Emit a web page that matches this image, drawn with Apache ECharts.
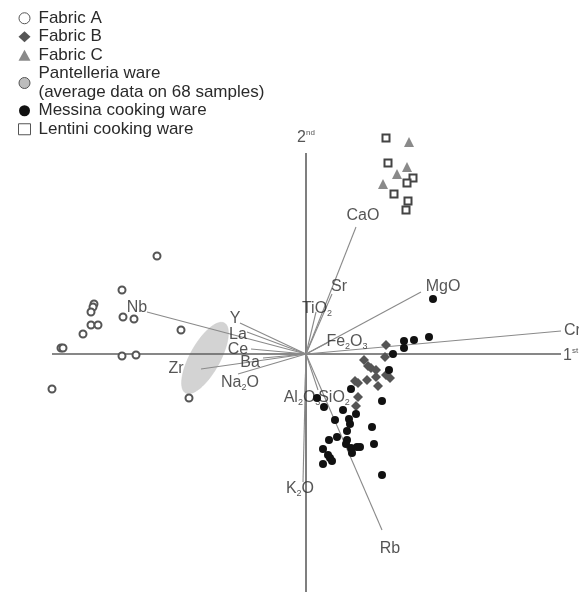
<!DOCTYPE html>
<html>
<head>
<meta charset="utf-8">
<script src="https://cdn.jsdelivr.net/npm/echarts@6/dist/echarts.min.js"></script>
<style>
  html, body { margin: 0; padding: 0; background: #fff; }
  #chart { width: 579px; height: 597px; }
</style>
</head>
<body>
<div id="chart"></div>
<script>
// Principal component biplot: sample scores and element loadings (1st vs 2nd component)

// Sample scores
const fabricA = [[-149,98],[-184,64],[-212,50],[-213,47],[-215,42],[-183,37],[-172,35],[-215,29],[-208,29],[-223,20],[-125,24],[-245,6],[-243,6],[-184,-2],[-170,-1],[-254,-35],[-117,-44]];
const fabricB = [[80,9],[79,-3],[58,-6],[62,-12],[65,-14],[70,-16],[80,-21],[84,-24],[61,-26],[70,-23],[49,-27],[52,-29],[72,-32],[52,-43],[50,-52]];
const fabricC = [[103,212],[101,187],[91,180],[77,170]];
const messina = [[127,55],[98,13],[108,14],[123,17],[98,6],[87,0],[83,-16],[45,-35],[76,-47],[11,-44],[18,-53],[37,-56],[50,-60],[43,-65],[29,-66],[44,-70],[41,-77],[66,-73],[23,-86],[31,-83],[41,-86],[40,-90],[45,-94],[51,-93],[54,-93],[46,-99],[68,-90],[17,-95],[22,-101],[24,-104],[26,-107],[17,-110],[76,-121]];
const lentini = [[80,216],[82,191],[107,176],[101,171],[88,160],[102,153],[100,144]];

// Pantelleria ware: mean position with confidence ellipse [cx, cy, semiMajor, semiMinor, angleDeg]
const pantelleria = [[-101,-4,40,15,61]];

// Element loadings (vector tips)
const elements = ['CaO','Sr','TiO2','MgO','Cr','Fe2O3','Nb','Y','La','Ce','Ba','Zr','Na2O','Al2O3','SiO2','K2O','Rb'];
const loadX = [50, 26, 10, 115, 255, 21, -159, -66, -59, -55, -43, -105, -68, -1, 12, -3, 76];
const loadY = [127, 60, 42, 62, 23, 11, 42, 31, 22, 5, -4, -15, -20, -38, -36, -128, -176];

// Component axes
const axis1 = [[-254,0],[255,0]];
const axis2 = [[0,201],[0,-238]];

// label placement relative to each vector tip, in pixels
const labelNudge = {
  CaO:[7,-11], Sr:[7,-7], TiO2:[1,-3], MgO:[22,-5], Cr:[3,0], Fe2O3:[20,-1],
  Nb:[-10,-4], Y:[-5,-4], La:[-9,3], Ce:[-13,1], Ba:[-13,5], Zr:[-25,0],
  Na2O:[2,9], Al2O3:[-3,6], SiO2:[16,8], K2O:[-3,7], Rb:[8,19]
};

const FONT = '"Liberation Sans", Arial, sans-serif';
const TXT = '#2a2a2a';

function chem(name) {
  return name.replace(/(\d)/g, '{s|$1}');
}
const rich = {
  s: { fontSize: 9, fontFamily: FONT, color: TXT, verticalAlign: 'bottom', lineHeight: 18 },
  p: { fontSize: 8, fontFamily: FONT, color: TXT, verticalAlign: 'top', lineHeight: 18 }
};

const chart = echarts.init(document.getElementById('chart'), null, { renderer: 'canvas' });

const vectorLines = elements.map((e, i) => ({ coords: [[0, 0], [loadX[i], loadY[i]]] }));
const vectorLabels = elements.map((e, i) => ({
  value: [loadX[i], loadY[i]],
  name: e,
  label: e === 'Cr' ? { offset: labelNudge[e], align: 'left' } : { offset: labelNudge[e] }
}));

const openMark = { color: '#fff', borderColor: '#555', borderWidth: 1 };

chart.setOption({
  animation: false,
  backgroundColor: '#fff',
  grid: { left: 0, right: 0, top: 0, bottom: 0 },
  xAxis: { type: 'value', min: -306, max: 273, show: false },
  yAxis: { type: 'value', min: -243, max: 354, show: false },
  legend: {
    orient: 'vertical',
    left: 13,
    top: 4,
    itemGap: 0,
    itemWidth: 12,
    itemHeight: 11,
    textStyle: { fontFamily: FONT, fontSize: 17, color: TXT, lineHeight: 18.5, padding: [0, 0, 0, 3] },
    data: [
      { name: 'Fabric A', icon: 'circle', itemStyle: openMark },
      { name: 'Fabric B', icon: 'diamond' },
      { name: 'Fabric C', icon: 'triangle' },
      { name: 'Pantelleria ware\n(average data on 68 samples)', icon: 'circle', itemStyle: { color: '#bdbdbd', borderColor: '#555', borderWidth: 1 } },
      { name: 'Messina cooking ware', icon: 'circle' },
      { name: 'Lentini cooking ware', icon: 'rect', itemStyle: openMark }
    ]
  },
  series: [
    {
      name: 'Pantelleria ware\n(average data on 68 samples)',
      type: 'custom',
      z: 1,
      data: pantelleria,
      itemStyle: { color: '#d3d3d3' },
      renderItem: function (params, api) {
        const cx = api.value(0), cy = api.value(1), a = api.value(2), b = api.value(3);
        const t = api.value(4) * Math.PI / 180;
        const pts = [];
        for (let k = 0; k < 72; k++) {
          const u = k / 72 * Math.PI * 2;
          const ex = a * Math.cos(u), ey = b * Math.sin(u);
          pts.push(api.coord([cx + ex * Math.cos(t) - ey * Math.sin(t), cy + ex * Math.sin(t) + ey * Math.cos(t)]));
        }
        return { type: 'polygon', shape: { points: pts }, style: { fill: '#d3d3d3', stroke: '#c8c8c8', lineWidth: 0.5 } };
      }
    },
    {
      type: 'lines',
      coordinateSystem: 'cartesian2d',
      z: 2,
      silent: true,
      lineStyle: { color: '#5f5f5f', width: 1.6, opacity: 1 },
      data: [{ coords: axis1 }, { coords: axis2 }]
    },
    {
      type: 'lines',
      coordinateSystem: 'cartesian2d',
      z: 2,
      silent: true,
      lineStyle: { color: '#8a8a8a', width: 1.1, opacity: 1 },
      data: vectorLines
    },
    {
      type: 'scatter',
      z: 3,
      symbolSize: 0,
      silent: true,
      data: vectorLabels,
      label: {
        show: true,
        position: 'inside',
        align: 'center',
        verticalAlign: 'middle',
        fontFamily: FONT,
        fontSize: 16,
        color: TXT,
        lineHeight: 18,
        formatter: p => chem(p.name),
        rich: rich
      }
    },
    {
      type: 'scatter',
      z: 3,
      symbolSize: 0,
      silent: true,
      data: [
        { value: axis1[1], name: '1{p|st}', label: { offset: [2, 2], align: 'left' } },
        { value: axis2[0], name: '2{p|nd}', label: { offset: [0, -15] } }
      ],
      label: {
        show: true,
        position: 'inside',
        align: 'center',
        verticalAlign: 'middle',
        fontFamily: FONT,
        fontSize: 16,
        color: TXT,
        lineHeight: 18,
        formatter: p => p.name,
        rich: rich
      }
    },
    {
      name: 'Fabric A', type: 'scatter', z: 4, symbol: 'emptyCircle', symbolSize: 7,
      itemStyle: { color: '#555', borderWidth: 1, opacity: 1 },
      data: fabricA
    },
    {
      name: 'Fabric B', type: 'scatter', z: 4, symbol: 'diamond', symbolSize: 10,
      itemStyle: { color: '#555', opacity: 1 },
      data: fabricB
    },
    {
      name: 'Fabric C', type: 'scatter', z: 4, symbol: 'triangle', symbolSize: 10,
      itemStyle: { color: '#8a8a8a', opacity: 1 },
      data: fabricC
    },
    {
      name: 'Messina cooking ware', type: 'scatter', z: 5, symbol: 'circle', symbolSize: 8,
      itemStyle: { color: '#111', opacity: 1 },
      data: messina
    },
    {
      name: 'Lentini cooking ware', type: 'scatter', z: 4, symbol: 'emptyRect', symbolSize: 7,
      itemStyle: { color: '#444', borderWidth: 1, opacity: 1 },
      data: lentini
    }
  ]
});
</script>
</body>
</html>
